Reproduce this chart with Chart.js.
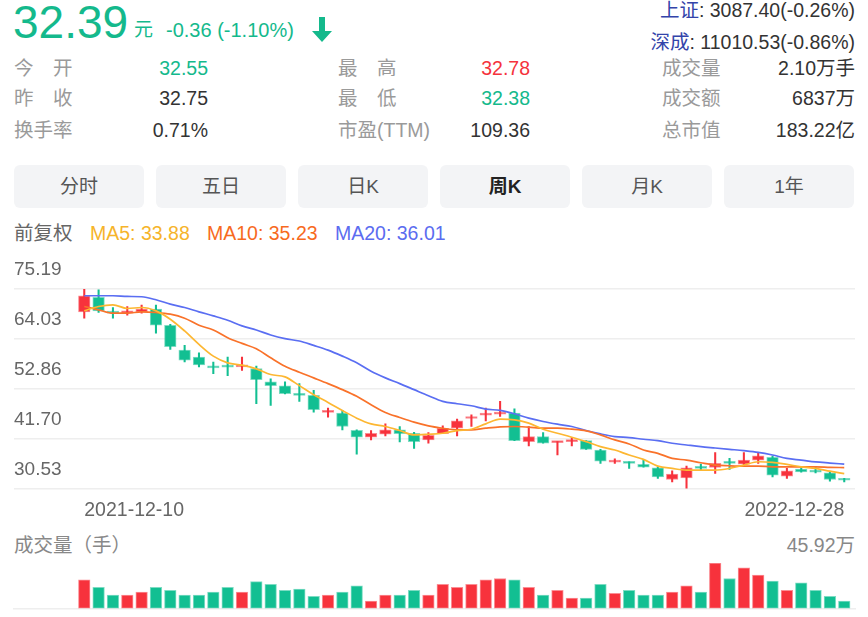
<!DOCTYPE html>
<html><head><meta charset="utf-8">
<script src="https://cdn.jsdelivr.net/npm/chart.js@4.4.0/dist/chart.umd.min.js"></script>
<style>
html,body{margin:0;padding:0;background:#fff}
body{width:868px;height:617px;overflow:hidden;position:relative;font-family:"Liberation Sans","Noto Sans CJK SC",sans-serif}
.t{position:absolute;white-space:nowrap;font-size:19.5px;line-height:24px;height:24px}
.lb{color:#9a9a9a}
.v{color:#333}
.g{color:#14b98c}
.r{color:#f5333d}
.tab{position:absolute;top:165px;width:130px;height:43px;line-height:43px;border-radius:6px;background:#f3f4f6;text-align:center;font-size:19px;color:#555}
canvas{position:absolute;left:0}
</style></head>
<body>
<div class="t g" style="left:13px;top:0px;font-size:46px;line-height:45px;height:45px">32.39</div>
<div class="t g" style="left:134px;top:18px;font-size:19px">元</div>
<div class="t g" style="left:166px;top:18px;font-size:20px">-0.36 (-1.10%)</div>
<svg style="position:absolute;left:311px;top:17px" width="22" height="26" viewBox="0 0 22 26"><path d="M8 0 H14 V14 H21 L11 25 L1 14 H8 Z" fill="#14b98c"/></svg>
<div class="t" style="right:13px;top:-2px"><span style="color:#3344aa">上证</span><span class="v">: 3087.40(-0.26%)</span></div>
<div class="t" style="right:13px;top:30px"><span style="color:#3344aa">深成</span><span class="v">: 11010.53(-0.86%)</span></div>

<div class="t lb" style="left:14px;top:56px">今　开</div>
<div class="t g" style="right:660px;top:56px">32.55</div>
<div class="t lb" style="left:338px;top:56px">最　高</div>
<div class="t r" style="right:338px;top:56px">32.78</div>
<div class="t lb" style="left:662px;top:56px">成交量</div>
<div class="t v" style="right:13px;top:56px">2.10万手</div>

<div class="t lb" style="left:14px;top:86px">昨　收</div>
<div class="t v" style="right:660px;top:86px">32.75</div>
<div class="t lb" style="left:338px;top:86px">最　低</div>
<div class="t g" style="right:338px;top:86px">32.38</div>
<div class="t lb" style="left:662px;top:86px">成交额</div>
<div class="t v" style="right:13px;top:86px">6837万</div>

<div class="t lb" style="left:14px;top:118px">换手率</div>
<div class="t v" style="right:660px;top:118px">0.71%</div>
<div class="t lb" style="left:338px;top:118px">市盈(TTM)</div>
<div class="t v" style="right:338px;top:118px">109.36</div>
<div class="t lb" style="left:662px;top:118px">总市值</div>
<div class="t v" style="right:13px;top:118px">183.22亿</div>

<div class="tab" style="left:14px">分时</div>
<div class="tab" style="left:156px">五日</div>
<div class="tab" style="left:298px">日K</div>
<div class="tab" style="left:440px;font-weight:bold;color:#222">周K</div>
<div class="tab" style="left:582px">月K</div>
<div class="tab" style="left:724px">1年</div>

<div class="t" style="left:14px;top:221px;color:#666">前复权</div>
<div class="t" style="left:90px;top:221px;color:#f6b42a">MA5: 33.88</div>
<div class="t" style="left:207px;top:221px;color:#f76a1e">MA10: 35.23</div>
<div class="t" style="left:335px;top:221px;color:#5b6cf0">MA20: 36.01</div>

<div class="t" style="left:14px;top:533px;color:#888">成交量（手）</div>
<div class="t" style="right:13px;top:533px;color:#888">45.92万</div>

<canvas id="k" width="868" height="284" style="top:250px"></canvas>
<canvas id="vol" width="868" height="62" style="top:555px"></canvas>

<script>
const dates = ["2021-12-10","2021-12-17","2021-12-24","2021-12-31","2022-01-07","2022-01-14","2022-01-21","2022-01-28","2022-02-11","2022-02-18","2022-02-25","2022-03-04","2022-03-11","2022-03-18","2022-03-25","2022-04-01","2022-04-08","2022-04-15","2022-04-22","2022-04-29","2022-05-06","2022-05-13","2022-05-20","2022-05-27","2022-06-02","2022-06-10","2022-06-17","2022-06-24","2022-07-01","2022-07-08","2022-07-15","2022-07-22","2022-07-29","2022-08-05","2022-08-12","2022-08-19","2022-08-26","2022-09-02","2022-09-09","2022-09-16","2022-09-23","2022-09-30","2022-10-14","2022-10-21","2022-10-28","2022-11-04","2022-11-11","2022-11-18","2022-11-25","2022-12-02","2022-12-09","2022-12-16","2022-12-23","2022-12-28"];
const opens  = [70.08,73.30,69.93,69.78,70.08,70.68,67.08,61.52,59.95,57.70,57.92,57.77,57.40,54.40,53.50,51.55,51.40,47.57,47.42,43.59,42.02,42.69,43.67,42.92,41.42,42.84,44.04,46.22,46.97,47.19,47.42,41.04,42.17,40.82,41.04,41.27,39.17,36.46,36.39,35.94,35.19,32.56,32.94,35.41,35.26,36.54,36.01,36.91,37.51,33.31,34.89,34.44,34.06,32.60];
const highs  = [75.19,75.03,71.05,71.28,71.58,71.58,67.30,62.57,60.92,58.82,59.95,59.95,57.92,55.07,54.40,54.02,52.52,48.54,48.02,43.67,43.52,45.02,44.42,43.14,43.07,44.57,46.07,47.04,48.54,50.05,48.39,44.42,43.07,41.04,42.02,41.27,39.32,37.21,36.54,36.91,35.41,34.51,35.56,36.01,38.57,37.29,38.57,38.57,37.81,35.04,35.19,35.41,34.29,32.85];
const lows   = [68.65,69.93,68.65,69.33,69.78,65.28,61.67,58.90,57.77,56.27,55.82,56.95,49.52,49.14,51.70,50.05,47.64,46.52,43.67,38.26,41.42,42.32,40.97,39.54,40.67,42.84,42.32,44.42,45.69,46.67,41.27,40.06,40.67,38.04,40.06,39.32,36.16,36.16,35.04,35.34,32.79,32.04,30.53,34.66,33.91,34.81,35.41,36.16,33.16,32.79,34.21,34.06,32.19,32.04];
const closes = [73.68,70.30,69.78,70.30,70.68,67.08,62.27,59.27,58.22,57.55,57.70,58.22,54.92,53.57,51.77,51.40,48.17,47.72,44.42,42.02,42.92,43.67,42.84,41.04,42.47,44.04,45.69,46.67,47.27,47.42,41.27,42.17,40.67,41.04,41.27,39.32,36.69,36.76,36.16,35.34,33.16,33.76,35.19,35.04,36.16,36.16,36.91,37.89,33.54,34.51,34.29,34.21,32.56,32.39];
const ma5  = [70.30,71.28,71.65,70.83,71.05,70.30,68.43,65.80,62.80,60.17,58.67,58.15,57.32,56.05,55.52,53.57,51.55,49.82,48.02,46.29,45.02,44.42,43.52,42.54,42.69,42.92,43.52,43.82,45.02,46.07,45.92,45.17,43.82,42.92,42.02,41.04,39.92,39.17,38.04,37.06,35.56,35.04,34.66,34.66,34.66,35.04,35.79,36.54,36.39,35.94,35.41,35.04,34.44,33.88];
const ma10 = [71.28,70.53,69.78,69.78,70.08,69.93,69.55,68.65,67.08,66.03,64.30,63.02,61.82,59.80,57.92,56.57,55.30,54.02,52.67,51.17,49.29,47.57,46.44,45.39,44.57,44.04,43.67,43.67,44.04,44.34,44.42,44.27,44.04,44.04,43.82,43.44,42.54,41.42,40.52,39.17,38.42,37.29,36.91,36.31,35.79,35.64,35.56,35.56,35.41,35.41,35.41,35.41,35.30,35.23];
const ma20 = [73.68,73.68,73.68,73.53,73.45,72.78,71.80,71.05,70.08,69.18,68.20,66.93,66.03,64.90,64.08,63.55,62.57,61.52,60.17,58.67,56.80,55.30,54.02,52.67,51.32,50.05,49.52,49.07,48.32,48.02,47.27,46.29,45.54,44.94,44.42,43.52,42.77,42.17,41.94,41.57,41.27,40.67,40.29,39.92,39.62,39.32,39.02,38.64,38.04,37.29,36.91,36.50,36.25,36.01];
const volumes = [28.9,21.4,13.6,13.6,16.6,21.4,18.4,13.6,13.6,16.6,21.4,16.6,27.2,24.5,18.4,19.7,12.2,13.6,16.6,22.8,7.5,13.6,13.6,18.4,13.6,24.5,21.4,24.5,28.9,30.3,28.9,21.4,13.6,18.4,10.5,10.5,24.5,15.3,18.4,13.6,13.6,16.6,22.8,16.6,45.92,30.3,41.1,33.7,27.6,18.4,25.8,18.4,12.2,7.5]; // 万手
const priceTicks = [75.19, 64.03, 52.86, 41.70, 30.53];
const volMax = 45.92;

const UP = '#f7323c', DOWN = '#12bf92';
const UPB = 'rgba(247,50,60,0.55)', DOWNB = 'rgba(18,191,146,0.55)';
const isUp = closes.map((c, i) => c >= opens[i]);
const fill = isUp.map(u => u ? UP : DOWN);
const edge = isUp.map(u => u ? UPB : DOWNB);
const FONT = '"Liberation Sans","Noto Sans CJK SC",sans-serif';
const X_MIN = -4.9, X_MAX = 53.75;

function line(label, arr, color) {
  return {type: 'line', label, data: arr.map((v, i) => ({x: i, y: v})), borderColor: color,
    borderWidth: 1.7, pointRadius: 0, cubicInterpolationMode: 'monotone', order: 0};
}

new Chart(document.getElementById('k'), {
  type: 'bar',
  data: {datasets: [
    line('MA5', ma5, '#fdb732'),
    line('MA10', ma10, '#f9722a'),
    line('MA20', ma20, '#5a6ef2'),
    {type: 'bar', label: 'wick', data: lows.map((l, i) => ({x: i, y: [l, highs[i]]})),
      backgroundColor: fill, barThickness: 1.4, grouped: false, order: 2},
    {type: 'bar', label: 'body', data: opens.map((o, i) => ({x: i, y: [o, closes[i]]})),
      backgroundColor: fill, borderColor: edge, borderWidth: 1, borderSkipped: false,
      barThickness: 11.6, minBarLength: 2, grouped: false, order: 1}
  ]},
  options: {
    responsive: false, animation: false,
    layout: {padding: {left: 14, right: 13, top: 39, bottom: 2}},
    plugins: {legend: {display: false}, tooltip: {enabled: false}},
    scales: {
      x: {type: 'linear', offset: false, min: X_MIN, max: X_MAX,
        grid: {display: false, drawTicks: false}, border: {display: false},
        afterBuildTicks: s => { s.ticks = [{value: 0}, {value: dates.length - 1}]; },
        ticks: {autoSkip: false, maxRotation: 0, align: 'inner', padding: 10, color: '#666',
          font: {size: 19.5, family: FONT}, callback: v => dates[v]}},
      y: {type: 'linear', min: priceTicks[priceTicks.length - 1], max: priceTicks[0], position: 'left',
        afterBuildTicks: s => { s.ticks = priceTicks.map(v => ({value: v})); },
        grid: {color: '#eeeeee', lineWidth: 1.5, drawTicks: false}, border: {display: false},
        ticks: {mirror: true, padding: 0, labelOffset: -19, color: '#666',
          font: {size: 19, family: FONT}, callback: v => v.toFixed(2)}}
    }
  }
});

new Chart(document.getElementById('vol'), {
  type: 'bar',
  data: {datasets: [{label: 'vol', data: volumes.map((v, i) => ({x: i, y: v})),
    backgroundColor: fill, borderColor: edge, borderWidth: 1, borderSkipped: false,
    barThickness: 11.6, grouped: false}]},
  options: {
    responsive: false, animation: false,
    layout: {padding: {left: 14, right: 13, top: 8, bottom: 8.5}},
    plugins: {legend: {display: false}, tooltip: {enabled: false}},
    scales: {
      x: {type: 'linear', offset: false, min: X_MIN, max: X_MAX, grid: {display: false, drawTicks: false},
        border: {display: true, color: '#eeeeee', width: 1.5}, ticks: {display: false}},
      y: {display: false, min: 0, max: volMax}
    }
  }
});
</script>
</body></html>
